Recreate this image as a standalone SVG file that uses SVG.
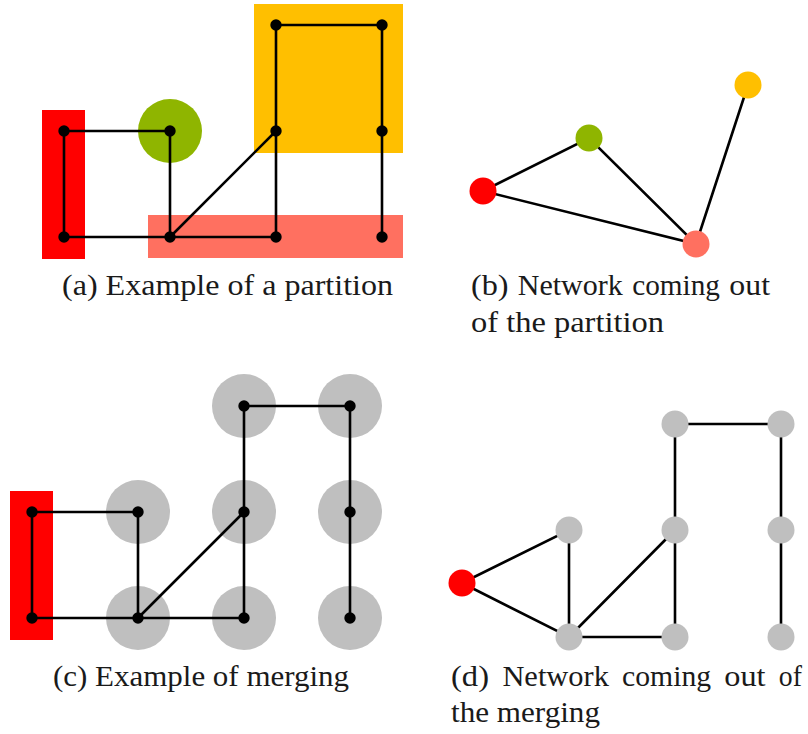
<svg xmlns="http://www.w3.org/2000/svg" width="808" height="734" viewBox="0 0 808 734">
<style>
.e{stroke:#000;stroke-width:2.6;fill:none;stroke-linecap:round}
.d{fill:#000}
.cap{font-family:'Liberation Serif','DejaVu Serif',serif;font-size:28.6px;fill:#1a1a1a}
.red{fill:#ff0000}.grn{fill:#8fb500}.org{fill:#ffbf00}.sal{fill:#ff7060}.gry{fill:#bfbfbf}
</style>
<rect width="808" height="734" fill="#fff"/>

<!-- Panel (a) -->
<g id="a-regions">
<rect id="a-red" class="red" x="42" y="110" width="43" height="149"/>
<rect id="a-orange" class="org" x="254" y="4" width="149" height="149"/>
<rect id="a-salmon" class="sal" x="148" y="215" width="255" height="43"/>
<circle id="a-green" class="grn" cx="170" cy="131" r="32"/>
</g>
<g id="a-edges">
<path class="e" d="M64 131H170V237M64 131V237H276M170 237L276 131M276 237V25H382V237"/>
</g>
<g id="a-nodes">
<g id="a-n1"><circle class="d" cx="64" cy="131" r="5.7"/></g>
<g id="a-n2"><circle class="d" cx="64" cy="237" r="5.7"/></g>
<g id="a-n3"><circle class="d" cx="170" cy="131" r="5.7"/></g>
<g id="a-n4"><circle class="d" cx="170" cy="237" r="5.7"/></g>
<g id="a-n5"><circle class="d" cx="276" cy="25" r="5.7"/></g>
<g id="a-n6"><circle class="d" cx="276" cy="131" r="5.7"/></g>
<g id="a-n7"><circle class="d" cx="276" cy="237" r="5.7"/></g>
<g id="a-n8"><circle class="d" cx="382" cy="25" r="5.7"/></g>
<g id="a-n9"><circle class="d" cx="382" cy="131" r="5.7"/></g>
<g id="a-n10"><circle class="d" cx="382" cy="237" r="5.7"/></g>
</g>
<text class="cap" x="62" y="295" textLength="331" lengthAdjust="spacingAndGlyphs">(a) Example of a partition</text>

<!-- Panel (b) -->
<g id="b-edges">
<path class="e" d="M483 191L589 138L696 244L483 191M696 244L748 85"/>
</g>
<g id="b-red"><circle class="red" cx="483" cy="191" r="13.5"/></g>
<g id="b-green"><circle class="grn" cx="589" cy="138" r="13.5"/></g>
<g id="b-orange"><circle class="org" cx="748" cy="85" r="13.5"/></g>
<g id="b-salmon"><circle class="sal" cx="696" cy="244" r="13.5"/></g>
<text class="cap" y="295"><tspan x="471" textLength="37.6" lengthAdjust="spacingAndGlyphs">(b)</tspan><tspan x="517.8" textLength="105" lengthAdjust="spacingAndGlyphs">Network</tspan><tspan x="632.2" textLength="87.7" lengthAdjust="spacingAndGlyphs">coming</tspan><tspan x="729.3" textLength="40.7" lengthAdjust="spacingAndGlyphs">out</tspan></text>
<text class="cap" x="471" y="332" textLength="193" lengthAdjust="spacingAndGlyphs">of the partition</text>

<!-- Panel (c) -->
<g id="c-regions">
<rect id="c-red" class="red" x="10" y="491" width="43" height="149"/>
<circle class="gry" cx="138" cy="512" r="32"/>
<circle class="gry" cx="138" cy="618" r="32"/>
<circle class="gry" cx="244" cy="406" r="32"/>
<circle class="gry" cx="244" cy="512" r="32"/>
<circle class="gry" cx="244" cy="618" r="32"/>
<circle class="gry" cx="350" cy="406" r="32"/>
<circle class="gry" cx="350" cy="512" r="32"/>
<circle class="gry" cx="350" cy="618" r="32"/>
</g>
<g id="c-edges">
<path class="e" d="M32 512H138V618M32 512V618H244M138 618L244 512M244 618V406H350V618"/>
</g>
<g id="c-nodes">
<g id="c-n1"><circle class="d" cx="32" cy="512" r="5.7"/></g>
<g id="c-n2"><circle class="d" cx="32" cy="618" r="5.7"/></g>
<g id="c-n3"><circle class="d" cx="138" cy="512" r="5.7"/></g>
<g id="c-n4"><circle class="d" cx="138" cy="618" r="5.7"/></g>
<g id="c-n5"><circle class="d" cx="244" cy="406" r="5.7"/></g>
<g id="c-n6"><circle class="d" cx="244" cy="512" r="5.7"/></g>
<g id="c-n7"><circle class="d" cx="244" cy="618" r="5.7"/></g>
<g id="c-n8"><circle class="d" cx="350" cy="406" r="5.7"/></g>
<g id="c-n9"><circle class="d" cx="350" cy="512" r="5.7"/></g>
<g id="c-n10"><circle class="d" cx="350" cy="618" r="5.7"/></g>
</g>
<text class="cap" x="53" y="686" textLength="296" lengthAdjust="spacingAndGlyphs">(c) Example of merging</text>

<!-- Panel (d) -->
<g id="d-edges">
<path class="e" d="M462 583L569 530V637L462 583M569 637H675M569 637L675 530M675 637V424H781V637"/>
</g>
<g id="d-red"><circle class="red" cx="462" cy="583" r="13.5"/></g>
<g id="d-g1"><circle class="gry" cx="569" cy="530" r="13.5"/></g>
<g id="d-g2"><circle class="gry" cx="569" cy="637" r="13.5"/></g>
<g id="d-g3"><circle class="gry" cx="675" cy="424" r="13.5"/></g>
<g id="d-g4"><circle class="gry" cx="675" cy="530" r="13.5"/></g>
<g id="d-g5"><circle class="gry" cx="675" cy="637" r="13.5"/></g>
<g id="d-g6"><circle class="gry" cx="781" cy="424" r="13.5"/></g>
<g id="d-g7"><circle class="gry" cx="781" cy="530" r="13.5"/></g>
<g id="d-g8"><circle class="gry" cx="781" cy="637" r="13.5"/></g>
<text class="cap" y="686"><tspan x="451" textLength="38" lengthAdjust="spacingAndGlyphs">(d)</tspan><tspan x="502.4" textLength="106.5" lengthAdjust="spacingAndGlyphs">Network</tspan><tspan x="622.1" textLength="89" lengthAdjust="spacingAndGlyphs">coming</tspan><tspan x="724.3" textLength="41.3" lengthAdjust="spacingAndGlyphs">out</tspan><tspan x="778.8" textLength="23.1" lengthAdjust="spacingAndGlyphs">of</tspan></text>
<text class="cap" x="451" y="722" textLength="149" lengthAdjust="spacingAndGlyphs">the merging</text>
</svg>
